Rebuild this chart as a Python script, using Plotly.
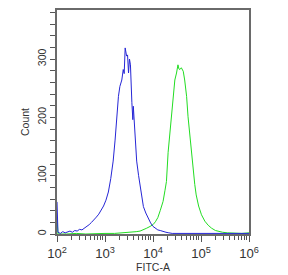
import plotly.graph_objects as go

# log10(FITC-A) positions and counts
blue_logx = [2.00, 2.02, 2.07, 2.12, 2.17, 2.22, 2.27, 2.32, 2.37, 2.42, 2.47, 2.52, 2.57, 2.62,
             2.67, 2.72, 2.77, 2.82, 2.87, 2.92, 2.97, 3.02, 3.07, 3.12, 3.17, 3.21, 3.245, 3.28,
             3.31, 3.35, 3.38, 3.40, 3.42, 3.45, 3.47, 3.49, 3.51, 3.53, 3.56, 3.58, 3.59, 3.61,
             3.63, 3.66, 3.70, 3.73, 3.77, 3.80, 3.85, 3.90, 3.95, 4.00, 4.05, 4.10, 4.15, 4.21,
             4.27, 4.33, 4.40, 4.50, 4.60, 4.75, 4.90, 5.10, 5.30, 5.50, 5.75, 6.00]
blue_count = [55, 3, 1, 4, 2, 3, 5, 3, 6, 5, 8, 7, 10, 12,
              16, 20, 24, 29, 34, 40, 48, 58, 72, 95, 125, 161, 201, 236,
              253, 264, 282, 275, 319, 305, 307, 276, 300, 290, 225, 196, 219, 185,
              160, 125, 100, 84, 62, 47, 36, 27, 19, 13, 10, 7, 6, 4,
              3, 2, 1, 1, 1, 0, 1, 0, 1, 0, 0, 1]

green_logx = [2.00, 2.02, 2.20, 2.40, 2.60, 2.80, 3.00, 3.20, 3.40, 3.55, 3.65, 3.73, 3.80, 3.87,
              3.94, 4.00, 4.05, 4.10, 4.15, 4.21, 4.25, 4.28, 4.315, 4.35, 4.385, 4.42, 4.455,
              4.49, 4.52, 4.54, 4.56, 4.59, 4.63, 4.66, 4.70, 4.73, 4.77, 4.83, 4.87, 4.90, 4.95,
              5.01, 5.08, 5.15, 5.22, 5.30, 5.37, 5.45, 5.55, 5.70, 5.85, 6.00]
green_count = [28, 0, 0, 1, 0, 1, 1, 1, 2, 3, 4, 5, 7, 10,
               13, 16, 21, 28, 40, 56, 75, 90, 140, 168, 205, 230, 264,
               276, 290, 283, 282, 285, 279, 264, 236, 201, 167, 113, 85, 67, 48,
               33, 22, 15, 10, 6, 4, 3, 2, 1, 1, 2]

y_tickvals = [0, 100, 200, 300]

fig = go.Figure()
fig.add_trace(go.Scatter(x=[10 ** v for v in green_logx], y=green_count, mode="lines",
                         line=dict(color="#22dd22", width=1), showlegend=False))
fig.add_trace(go.Scatter(x=[10 ** v for v in blue_logx], y=blue_count, mode="lines",
                         line=dict(color="#2626d6", width=1), showlegend=False))

font = dict(family="Liberation Sans, Arial, sans-serif", size=10.5, color="#333333")
fig.update_layout(
    width=288, height=275,
    margin=dict(l=57, r=39, t=10, b=41),
    paper_bgcolor="white", plot_bgcolor="white",
    font=font,
    xaxis=dict(type="log", range=[2, 6], dtick=1, exponentformat="power", automargin=False,
               showgrid=False, zeroline=False, showline=True, mirror=True,
               linecolor="#6a6a6a", linewidth=2,
               ticks="outside", ticklen=6, tickcolor="#555", tickwidth=1,
               ticklabelstandoff=1,
               minor=dict(ticks="outside", ticklen=4, tickcolor="#555", showgrid=False),
               title=dict(text="FITC-A", font=font, standoff=0)),
    yaxis=dict(range=[0, 384], tickvals=y_tickvals, tickangle=-90, automargin=False,
               showgrid=False, zeroline=False, showline=True, mirror=True,
               linecolor="#6a6a6a", linewidth=2,
               ticks="outside", ticklen=5, tickcolor="#555", tickwidth=1,
               minor=dict(dtick=20, ticks="outside", ticklen=5, tickcolor="#555", showgrid=False),
               title=dict(text="Count", font=font, standoff=4)),
)
fig.write_html("out.html")
